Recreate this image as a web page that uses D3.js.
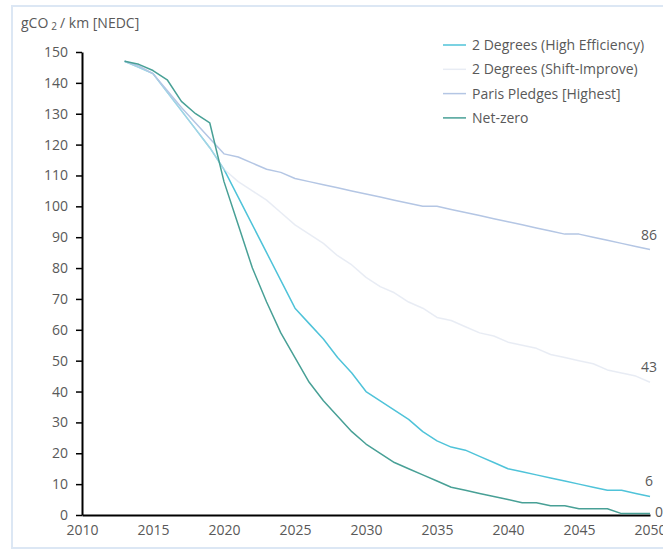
<!DOCTYPE html>
<html>
<head>
<meta charset="utf-8">
<script src="https://cdn.jsdelivr.net/npm/d3@7/dist/d3.min.js"></script>
<style>
  html, body { margin: 0; padding: 0; background: #ffffff; }
  svg { display: block; }
  text { font-family: "Open Sans", "Noto Sans", sans-serif; }
</style>
</head>
<body>
<svg id="chart" width="663" height="552"></svg>
<script>
// Years covered by the projections
const years = d3.range(2013, 2051);

// New-car fleet CO2 intensity, gCO2/km (NEDC), one array per scenario
const highEfficiency = [147, 145, 143, 137, 131, 125, 119, 112, 103, 94, 85, 76, 67, 62, 57, 51, 46, 40, 37, 34,
  31, 27, 24, 22, 21, 19, 17, 15, 14, 13, 12, 11, 10, 9, 8, 8, 7, 6];
const shiftImprove = [147, 145, 143, 137, 131, 125, 119, 112, 108, 105, 102, 98, 94, 91, 88, 84, 81, 77, 74, 72,
  69, 67, 64, 63, 61, 59, 58, 56, 55, 54, 52, 51, 50, 49, 47, 46, 45, 43];
const parisPledges = [147, 145.5, 143, 137.5, 132, 127, 122, 117, 116, 114, 112, 111, 109, 108, 107, 106, 105, 104, 103, 102,
  101, 100, 100, 99, 98, 97, 96, 95, 94, 93, 92, 91, 91, 90, 89, 88, 87, 86];
const netZero = [147, 146, 144, 141, 134, 130, 127, 108, 94, 80, 69, 59, 51, 43, 37, 32, 27, 23, 20, 17,
  15, 13, 11, 9, 8, 7, 6, 5, 4, 4, 3, 3, 2, 2, 2, 0.45, 0.45, 0.45];

const seriesNames = ["2 Degrees (High Efficiency)", "2 Degrees (Shift-Improve)", "Paris Pledges [Highest]", "Net-zero"];
const xTicks = [2010, 2015, 2020, 2025, 2030, 2035, 2040, 2045, 2050];
const yTicks = [0, 10, 20, 30, 40, 50, 60, 70, 80, 90, 100, 110, 120, 130, 140, 150];

const textColor = "#595959";

const series = [
  { name: seriesNames[0], values: highEfficiency, color: "#4fc3d9", opacity: 1, labelPos: "above" },
  { name: seriesNames[1], values: shiftImprove, color: "#d9dfec", opacity: 0.6, labelPos: "above" },
  { name: seriesNames[2], values: parisPledges, color: "#b4c6e4", opacity: 1, labelPos: "above" },
  { name: seriesNames[3], values: netZero, color: "#48a096", opacity: 1, labelPos: "right" }
];

const svg = d3.select("#chart");

// outer frame
svg.append("rect")
  .attr("x", 12).attr("y", 6)
  .attr("width", 662).attr("height", 542)
  .attr("fill", "none")
  .attr("stroke", "#dce7f4")
  .attr("stroke-width", 2);

const x = d3.scaleLinear().domain([2010, 2050]).range([82, 650]);
const y = d3.scaleLinear().domain([0, 150]).range([515, 52]);

// y axis
const yAxis = svg.append("g")
  .attr("transform", `translate(${x(2010)},0)`)
  .call(d3.axisLeft(y).tickValues(yTicks).tickSize(6).tickPadding(8).tickSizeOuter(0));
yAxis.select(".domain").attr("stroke", "#000").attr("stroke-width", 2);
yAxis.selectAll(".tick line").attr("stroke", "#000").attr("stroke-width", 1.5);
yAxis.selectAll(".tick text")
  .attr("fill", textColor)
  .style("font-size", "14px")
  .style("font-family", "\"Open Sans\", sans-serif");

// x axis
const xAxis = svg.append("g")
  .attr("transform", `translate(0,${y(0)})`)
  .call(d3.axisBottom(x).tickValues(xTicks).tickFormat(d3.format("d")).tickSize(0).tickPadding(10).tickSizeOuter(0));
xAxis.select(".domain").attr("stroke", "#000").attr("stroke-width", 2);
xAxis.selectAll(".tick text")
  .attr("fill", textColor)
  .style("font-size", "14px")
  .style("font-family", "\"Open Sans\", sans-serif");

// unit title
const title = svg.append("text")
  .attr("x", 21).attr("y", 28)
  .attr("fill", textColor)
  .style("font-size", "14px");
title.append("tspan").text("gCO");
title.append("tspan").attr("dx", 3).attr("dy", 2).style("font-size", "10px").text("2");
title.append("tspan").attr("dx", 3).attr("dy", -2).text("/ km [NEDC]");

// scenario lines
const line = d3.line()
  .x((d, i) => x(years[i]))
  .y(d => y(d));

svg.append("g")
  .selectAll("path")
  .data(series)
  .join("path")
  .attr("d", d => line(d.values))
  .attr("fill", "none")
  .attr("stroke", d => d.color)
  .attr("stroke-opacity", d => d.opacity)
  .attr("stroke-width", 1.5)
  .attr("stroke-linejoin", "round");

// end-of-line value labels
const fmt = d3.format(".0f");
svg.append("g")
  .selectAll("text")
  .data(series)
  .join("text")
  .attr("x", d => d.labelPos === "right" ? x(2050) + 5 : x(2050) - 1)
  .attr("y", d => d.labelPos === "right" ? y(d.values[d.values.length - 1]) + 3 : y(d.values[d.values.length - 1]) - 10)
  .attr("text-anchor", d => d.labelPos === "right" ? "start" : "middle")
  .attr("fill", textColor)
  .style("font-size", "14px")
  .text(d => fmt(d.values[d.values.length - 1]));

// legend
const legend = svg.append("g").attr("transform", "translate(443,45)");
const rows = legend.selectAll("g")
  .data(series)
  .join("g")
  .attr("transform", (d, i) => `translate(0,${i * 24.3})`);
rows.append("line")
  .attr("x1", 0).attr("x2", 23)
  .attr("stroke", d => d.color)
  .attr("stroke-opacity", d => d.opacity)
  .attr("stroke-width", 1.5);
rows.append("text")
  .attr("x", 29).attr("y", 5)
  .attr("fill", textColor)
  .style("font-size", "14px")
  .text(d => d.name);
</script>
</body>
</html>
